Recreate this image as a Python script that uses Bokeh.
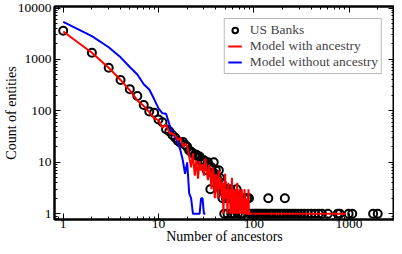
from bokeh.plotting import figure
from bokeh.models import Range1d, FixedTicker, LogAxis, BasicTickFormatter, Legend, LegendItem
from bokeh.embed import file_html
from bokeh.resources import INLINE

# US Banks (observed)
bank_x = [1, 2, 3, 4, 5, 6, 7, 8, 9, 10, 11, 12, 13, 14, 15, 16, 17, 18, 19, 20,
          21, 22, 23, 24, 25, 26, 27, 28, 29, 30, 31, 32, 33, 34, 35, 36, 37, 38, 39, 40,
          41, 42, 43, 44, 45, 46, 47, 48, 49, 50, 51, 52, 53, 55, 57, 58, 60, 62, 64, 66,
          68, 71, 73, 77, 80, 85, 89, 90, 95,
          100, 104, 108, 113, 118, 124, 130, 137, 142, 145, 153, 162, 172, 183, 195, 208, 212,
          222, 237, 254, 272, 292, 315, 340, 368, 400, 440, 480, 520, 600, 760, 800,
          990, 1080, 1790, 2000]
bank_y = [3600, 1350, 690, 400, 265, 195, 130, 97, 92, 68, 60, 44, 40, 34, 30, 26, 24, 25, 22, 20,
          17, 16, 15, 14, 14, 13, 13, 11, 10, 11, 10, 7, 10, 8, 3, 8, 6, 10, 6, 7,
          5, 4, 7, 5, 3, 4, 2, 3, 1, 3, 2, 3, 1, 2, 3, 1, 2, 1, 2, 3,
          1, 2, 1, 1, 2, 2, 2, 1, 1,
          1, 1, 1, 1, 1, 1, 1, 1, 2, 1, 1, 1, 1, 1, 1, 1, 2,
          1, 1, 1, 1, 1, 1, 1, 1, 1, 1, 1, 1, 1, 1, 1,
          1, 1, 1, 1]

# Model with ancestry
with_x = list(range(1, 91)) + [120, 150, 200, 300, 500, 700, 930]
with_y = [3500, 1350, 690, 400, 250, 160, 125, 95, 72, 66,
          47, 54, 38, 36, 33, 27, 30, 20, 23, 21,
          13, 8, 15, 5.5, 11, 4.8, 10.6, 6.9, 9.2, 5.5,
          12, 7, 4.5, 9, 6, 3, 8, 5, 2, 6,
          4, 2, 7, 3, 5, 2, 4, 1, 3, 6,
          2, 3, 1, 4, 2, 3, 1, 2, 5, 1,
          3, 2, 1, 3, 2, 1, 4, 1, 2, 1,
          3, 1, 2, 1, 3, 1, 2, 1, 1, 3,
          1, 2, 1, 1, 2, 1, 1, 3, 1, 1,
          1, 1, 1, 1, 1, 1, 1]

# Model without ancestry
without_x = list(range(1, 32))
without_y = [5400, 2850, 1730, 1100, 715, 510, 330, 260, 170, 112,
             90, 88, 55, 38, 30, 25, 17, 11, 6, 10,
             2.5, 2, 1, 1, 1, 1, 1, 2, 2, 1, 1]

major = [1, 10, 100, 1000, 10000]
minor = [m * d for d in [0.1, 1, 10, 100, 1000, 10000] for m in range(2, 10)]

FONT = "Liberation Serif"

p = figure(width=394, height=246, x_axis_type="log", y_axis_type="log",
           x_range=Range1d(0.81, 3000), y_range=Range1d(0.775, 10700),
           output_backend="svg", toolbar_location=None,
           min_border_left=42, min_border_right=0, min_border_top=6, min_border_bottom=20)
p.grid.visible = False
p.outline_line_color = "black"
p.outline_line_width = 2

for ax in (p.xaxis[0], p.yaxis[0]):
    ax.ticker = FixedTicker(ticks=major, minor_ticks=minor)
    ax.formatter = BasicTickFormatter(use_scientific=False)
    ax.major_tick_in = 6
    ax.major_tick_out = 0
    ax.minor_tick_in = 3
    ax.minor_tick_out = 0
    ax.axis_line_width = 2
    ax.major_tick_line_width = 1
    ax.minor_tick_line_width = 1
    ax.major_label_text_font = FONT
    ax.major_label_text_font_size = "13.5px"
    ax.major_label_text_color = "black"
    ax.axis_label_text_font = FONT
    ax.axis_label_text_font_size = "14px"
    ax.axis_label_text_font_style = "normal"
    ax.axis_label_text_color = "black"
p.xaxis.major_label_standoff = 0
p.xaxis.axis_label_standoff = -2
p.yaxis.major_label_standoff = 3
p.yaxis.axis_label_standoff = -4
p.xaxis.axis_label = "Number of ancestors"
p.yaxis.axis_label = "Count of entities"

for loc in ("above", "right"):
    ax = LogAxis(ticker=FixedTicker(ticks=major, minor_ticks=minor),
                 major_label_text_font_size="1px", major_label_text_alpha=0,
                 major_label_standoff=0, axis_label_standoff=0,
                 major_tick_in=6, major_tick_out=0, minor_tick_in=3, minor_tick_out=0,
                 axis_line_width=2)
    p.add_layout(ax, loc)

r_bank = p.scatter(bank_x, bank_y, marker="circle", size=8, fill_alpha=0,
                   line_color="black", line_width=2)
r_without = p.line(without_x, without_y, line_color="blue", line_width=2)
r_with = p.line(with_x, with_y, line_color="red", line_width=2)

legend = Legend(items=[LegendItem(label="US Banks", renderers=[r_bank]),
                       LegendItem(label="Model with ancestry", renderers=[r_with]),
                       LegendItem(label="Model without ancestry", renderers=[r_without])],
                location="top_right", label_text_font=FONT, label_text_font_size="13.5px",
                border_line_color="#777777", border_line_width=1,
                padding=3, spacing=0, margin=12, glyph_width=14, glyph_height=14,
                label_height=14, label_standoff=8, background_fill_alpha=1)
p.add_layout(legend)

open("out.html", "w").write(file_html(p, INLINE))
